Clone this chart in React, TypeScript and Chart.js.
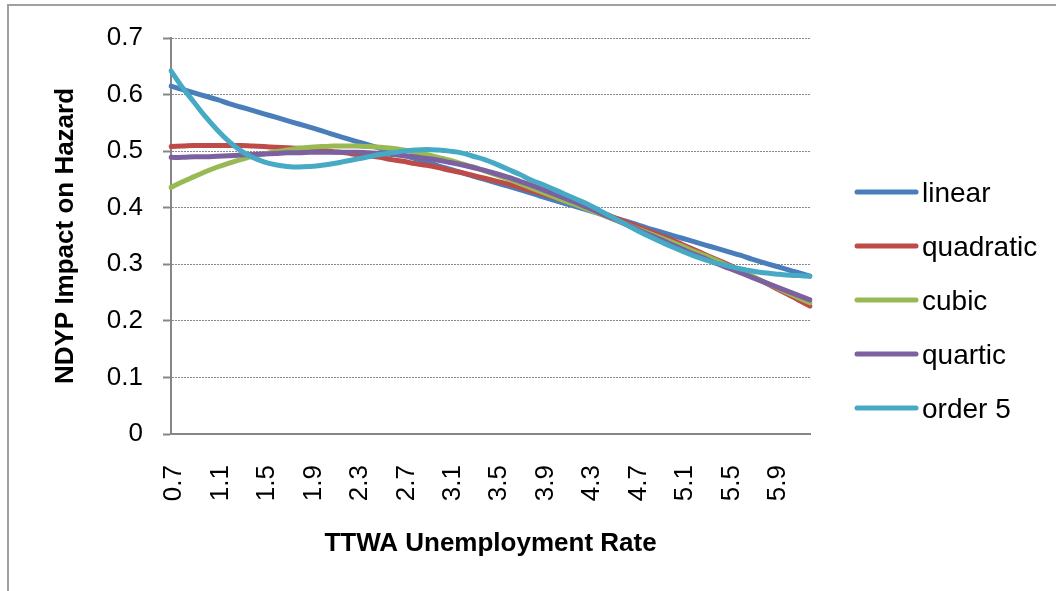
import React, { useEffect, useRef } from 'react';
import { Chart, registerables } from 'chart.js';

Chart.register(...registerables);

const categories = [
  '0.7', '0.8', '0.9', '1', '1.1', '1.2', '1.3', '1.4', '1.5', '1.6',
  '1.7', '1.8', '1.9', '2', '2.1', '2.2', '2.3', '2.4', '2.5', '2.6',
  '2.7', '2.8', '2.9', '3', '3.1', '3.2', '3.3', '3.4', '3.5', '3.6',
  '3.7', '3.8', '3.9', '4', '4.1', '4.2', '4.3', '4.4', '4.5', '4.6',
  '4.7', '4.8', '4.9', '5', '5.1', '5.2', '5.3', '5.4', '5.5', '5.6',
  '5.7', '5.8', '5.9', '6', '6.1', '6.2',
];

const linear = [
  0.615, 0.609, 0.603, 0.597, 0.591, 0.584, 0.578, 0.572, 0.566, 0.560,
  0.554, 0.548, 0.542, 0.536, 0.529, 0.523, 0.517, 0.511, 0.505, 0.499,
  0.493, 0.487, 0.481, 0.474, 0.468, 0.462, 0.456, 0.450, 0.444, 0.438,
  0.432, 0.426, 0.419, 0.413, 0.407, 0.401, 0.395, 0.389, 0.383, 0.377,
  0.371, 0.364, 0.358, 0.352, 0.346, 0.340, 0.334, 0.328, 0.322, 0.316,
  0.309, 0.303, 0.297, 0.291, 0.285, 0.279,
];

const quadratic = [
  0.508, 0.509, 0.510, 0.510, 0.510, 0.510, 0.510, 0.509, 0.508, 0.507,
  0.506, 0.505, 0.503, 0.501, 0.499, 0.497, 0.494, 0.492, 0.489, 0.485,
  0.482, 0.478, 0.475, 0.471, 0.466, 0.462, 0.457, 0.452, 0.447, 0.442,
  0.436, 0.430, 0.424, 0.418, 0.412, 0.405, 0.398, 0.391, 0.384, 0.376,
  0.368, 0.360, 0.352, 0.344, 0.335, 0.326, 0.317, 0.308, 0.299, 0.289,
  0.279, 0.269, 0.258, 0.248, 0.237, 0.226,
];

const cubic = [
  0.436, 0.446, 0.455, 0.464, 0.472, 0.479, 0.485, 0.491, 0.495, 0.499,
  0.502, 0.505, 0.507, 0.508, 0.509, 0.509, 0.509, 0.508, 0.507, 0.505,
  0.502, 0.498, 0.494, 0.489, 0.484, 0.478, 0.472, 0.465, 0.458, 0.451,
  0.443, 0.435, 0.427, 0.419, 0.411, 0.404, 0.396, 0.388, 0.380, 0.372,
  0.364, 0.356, 0.348, 0.340, 0.332, 0.323, 0.315, 0.306, 0.297, 0.288,
  0.279, 0.269, 0.260, 0.250, 0.241, 0.232,
];

const quartic = [
  0.489, 0.489, 0.490, 0.490, 0.491, 0.492, 0.493, 0.494, 0.495, 0.496,
  0.497, 0.497, 0.498, 0.498, 0.498, 0.498, 0.498, 0.497, 0.496, 0.494,
  0.492, 0.490, 0.487, 0.484, 0.480, 0.476, 0.471, 0.466, 0.460, 0.454,
  0.447, 0.440, 0.432, 0.424, 0.416, 0.408, 0.399, 0.390, 0.381, 0.372,
  0.363, 0.354, 0.345, 0.336, 0.327, 0.318, 0.310, 0.301, 0.293, 0.285,
  0.277, 0.269, 0.261, 0.253, 0.245, 0.237,
];

const order5 = [
  0.642, 0.612, 0.586, 0.560, 0.537, 0.517, 0.501, 0.489, 0.481, 0.476,
  0.473, 0.472, 0.473, 0.475, 0.478, 0.482, 0.486, 0.490, 0.494, 0.497,
  0.500, 0.502, 0.503, 0.502, 0.500, 0.497, 0.491, 0.485, 0.477, 0.468,
  0.459, 0.449, 0.441, 0.432, 0.423, 0.414, 0.405, 0.394, 0.383, 0.372,
  0.361, 0.351, 0.341, 0.332, 0.323, 0.315, 0.308, 0.302, 0.297, 0.292,
  0.288, 0.285, 0.283, 0.281, 0.280, 0.279,
];

const seriesNames = ['linear', 'quadratic', 'cubic', 'quartic', 'order 5'];
const seriesColors = ['#4A7EBB', '#BE4B48', '#98B954', '#7D60A0', '#46AAC5'];
const seriesValues = [linear, quadratic, cubic, quartic, order5];

const yAxisTitle = 'NDYP Impact on Hazard';
const xAxisTitle = 'TTWA Unemployment Rate';

const FONT = '"Liberation Sans", Arial, sans-serif';

const legendPlugin = {
  id: 'excelLegend',
  afterDraw(chart: any) {
    const ctx = chart.ctx;
    ctx.save();
    chart.data.datasets.forEach((ds: any, i: number) => {
      const y = 192 + i * 54;
      ctx.strokeStyle = ds.borderColor;
      ctx.lineWidth = 5;
      ctx.lineCap = 'round';
      ctx.beginPath();
      ctx.moveTo(857, y);
      ctx.lineTo(916, y);
      ctx.stroke();
      ctx.fillStyle = '#000';
      ctx.font = '28px ' + FONT;
      ctx.textBaseline = 'alphabetic';
      ctx.textAlign = 'left';
      ctx.fillText(ds.label, 922, y + 10);
    });
    ctx.restore();
  },
};

export default function App() {
  const ref = useRef<HTMLCanvasElement>(null);

  useEffect(() => {
    if (!ref.current) return;
    const chart = new Chart(ref.current, {
      type: 'line',
      data: {
        labels: categories,
        datasets: seriesValues.map((vals, i) => ({
          label: seriesNames[i],
          data: vals,
          borderColor: seriesColors[i],
          backgroundColor: seriesColors[i],
          borderWidth: 5,
          borderCapStyle: 'round',
          borderJoinStyle: 'round',
          pointRadius: 0,
          pointHoverRadius: 0,
          tension: 0.4,
          fill: false,
          order: seriesValues.length - i,
        })),
      },
      options: {
        animation: false,
        responsive: false,
        maintainAspectRatio: false,
        events: [],
        layout: { padding: { left: 0, top: 38, right: 246, bottom: 0 } },
        plugins: {
          legend: { display: false },
          tooltip: { enabled: false },
          title: { display: false },
        },
        scales: {
          x: {
            type: 'category',
            offset: false,
            grid: { display: false, drawTicks: false },
            border: { display: true, color: '#868686', width: 2 },
            ticks: {
              autoSkip: false,
              maxRotation: 90,
              minRotation: 90,
              padding: 31,
              labelOffset: 3,
              color: '#000',
              font: { family: FONT, size: 26 },
              callback: (_v: any, idx: number) => (idx % 4 === 0 ? categories[idx] : ''),
            },
            title: {
              display: true,
              text: xAxisTitle,
              color: '#000',
              font: { family: FONT, size: 26, weight: 'bold' },
              padding: { top: 0, bottom: 32 },
            },
            afterFit: (scale: any) => {
              scale.height = 157;
            },
          },
          y: {
            min: 0,
            max: 0.7,
            ticks: {
              stepSize: 0.1,
              padding: 20,
              color: '#000',
              font: { family: FONT, size: 26 },
            },
            grid: {
              color: '#888888',
              lineWidth: 1,
              drawTicks: true,
              tickLength: 8,
              tickColor: '#868686',
              tickWidth: 2,
              tickBorderDash: [],
            },
            border: { display: true, color: '#868686', width: 2, dash: [2, 1] },
            title: {
              display: true,
              text: yAxisTitle,
              color: '#000',
              font: { family: FONT, size: 26, weight: 'bold' },
              padding: { top: 50, bottom: 0 },
            },
            afterFit: (scale: any) => {
              scale.width = 171;
            },
          },
        },
      } as any,
      plugins: [legendPlugin],
    });
    return () => chart.destroy();
  }, []);

  return (
    <div style={{ position: 'absolute', left: 0, top: 0, width: 1056, height: 591, overflow: 'hidden' }}>
      <div
        style={{
          position: 'absolute',
          left: 7,
          top: 4,
          width: 1049,
          height: 587,
          borderLeft: '2px solid #a0a0a0',
          borderTop: '2px solid #a0a0a0',
          boxSizing: 'border-box',
        }}
      />
      <canvas
        ref={ref}
        width={1056}
        height={591}
        style={{ position: 'absolute', left: 0, top: 0, display: 'block' }}
      />
    </div>
  );
}
